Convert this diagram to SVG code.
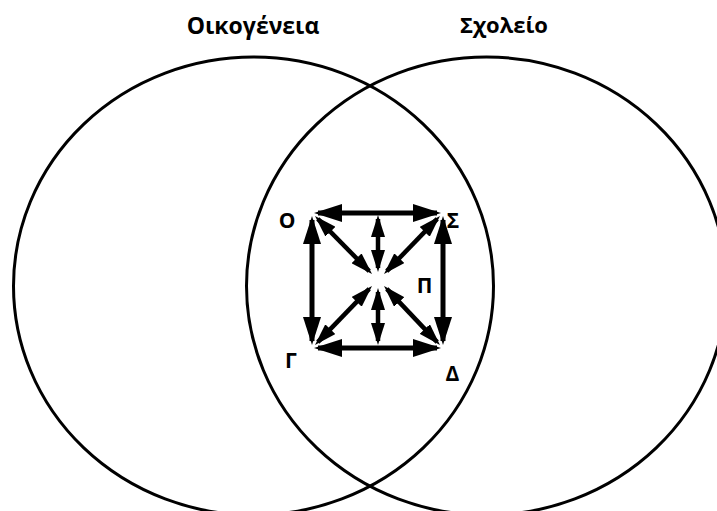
<svg xmlns="http://www.w3.org/2000/svg" width="717" height="511" viewBox="0 0 717 511">
<style>
.c{fill:none;stroke:#000;stroke-width:3}
.t{font-family:"Open Sans","DejaVu Sans",sans-serif;font-weight:700;fill:#000;text-anchor:middle}
.side{stroke:#000;stroke-width:5;marker-start:url(#big);marker-end:url(#big)}
.diag{stroke:#000;stroke-width:4.5;marker-start:url(#sm);marker-end:url(#sm)}
</style>
<defs>
<marker id="big" viewBox="0 0 28 18" markerWidth="28" markerHeight="18" refX="24" refY="9" orient="auto-start-reverse" markerUnits="userSpaceOnUse"><path d="M0,0 L28,9 L0,18 z" fill="#000"/></marker>
<marker id="sm" viewBox="0 0 22 14" markerWidth="22" markerHeight="14" refX="18" refY="7" orient="auto-start-reverse" markerUnits="userSpaceOnUse"><path d="M0,0 L22,7 L0,14 z" fill="#000"/></marker>
</defs>
<rect width="717" height="511" fill="#fff"/>
<g id="family"><ellipse class="c" cx="253.5" cy="286" rx="240" ry="229"/><text class="t" x="253" y="34" font-size="23">Οικογένεια</text></g>
<g id="school"><ellipse class="c" cx="486.5" cy="286" rx="240" ry="229"/><text class="t" x="504" y="33" font-size="22">Σχολείο</text></g>
<g id="O"><text class="t" x="287" y="228" font-size="21">Ο</text></g>
<g id="S"><text class="t" x="453" y="228" font-size="21">Σ</text></g>
<g id="P"><text class="t" x="424.5" y="293" font-size="21">Π</text></g>
<g id="G"><text class="t" x="291" y="368" font-size="21">Γ</text></g>
<g id="D"><text class="t" x="452.5" y="381" font-size="21">Δ</text></g>
<g id="connectors">
<line class="side" x1="318" y1="213" x2="437" y2="213"/>
<line class="side" x1="318" y1="348" x2="437" y2="348"/>
<line class="side" x1="312" y1="220" x2="312" y2="341"/>
<line class="side" x1="443" y1="220" x2="443" y2="341"/>
<line class="diag" x1="317.8" y1="218.8" x2="369.2" y2="271.2"/>
<line class="diag" x1="437.2" y1="218.9" x2="386.8" y2="271.1"/>
<line class="diag" x1="317.8" y1="342.1" x2="369.2" y2="288.9"/>
<line class="diag" x1="437.2" y1="342.1" x2="386.8" y2="288.9"/>
<line class="diag" x1="378" y1="219" x2="378" y2="268"/>
<line class="diag" x1="378" y1="292" x2="378" y2="341"/>
</g>
</svg>
